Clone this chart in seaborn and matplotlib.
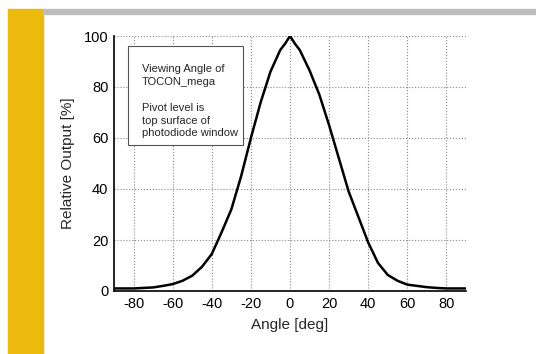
import numpy as np
import pandas as pd
import seaborn as sns
from matplotlib import pyplot as plt
from matplotlib.patches import Rectangle
from matplotlib.ticker import MultipleLocator

# Angle steps
angles = [-90, -85, -80, -75, -70, -65, -60, -55, -50, -45, -40, -35, -30, -25,
          -20, -15, -10, -5, -2.5, 0, 2.5, 5, 10, 15, 20, 25, 30, 35, 40, 45,
          50, 55, 60, 65, 70, 75, 80, 85, 90]
output = [1.0, 1.0, 1.0, 1.2, 1.4, 2.0, 2.7, 4.0, 6.0, 9.5, 14.5, 23, 32, 45,
          60, 74, 86, 94.5, 97, 100, 97, 94.5, 86.5, 77, 65, 52, 39, 29, 19, 11,
          6.3, 4.0, 2.5, 2.0, 1.5, 1.2, 1.0, 1.0, 1.0]

note = "Viewing Angle of\nTOCON_mega\n\nPivot level is\ntop surface of\nphotodiode window"

df = pd.DataFrame({"Angle": angles, "Output": output})

sns.set_style("white")
plt.rcParams['font.family'] = ['Liberation Sans', 'DejaVu Sans']
plt.rcParams['axes.unicode_minus'] = False

fig = plt.figure(figsize=(5.36, 3.54), dpi=100)
W, H = 536, 354

# yellow side bar and grey top bar of the slide
fig.patches.append(Rectangle((8 / W, 0), 35 / W, (H - 9) / H, transform=fig.transFigure,
                             color="#ECB90D", zorder=0))
fig.patches.append(Rectangle((43 / W, (H - 14) / H), (W - 43) / W, 5 / H,
                             transform=fig.transFigure, color="#BEBEBE", zorder=0))

ax = fig.add_axes([114 / W, (H - 291) / H, 352 / W, 255 / H])
sns.lineplot(x="Angle", y="Output", data=df, color="black", linewidth=1.8, ax=ax)

ax.set_xlim(-90, 90)
ax.set_ylim(0, 100)
ax.set_xticks([-80, -60, -40, -20, 0, 20, 40, 60, 80])
ax.set_yticks([0, 20, 40, 60, 80, 100])
ax.xaxis.set_minor_locator(MultipleLocator(10))
ax.yaxis.set_minor_locator(MultipleLocator(10))
ax.tick_params(which="both", direction="in", labelsize=10.5, colors="black", pad=4)
ax.tick_params(which="major", length=4, width=0.8)
ax.tick_params(which="minor", length=2.5, width=0.8)
ax.grid(True, which="major", linestyle=":", color="#888888", linewidth=0.8)

ax.spines["top"].set_visible(False)
ax.spines["right"].set_visible(False)
for s in ["left", "bottom"]:
    ax.spines[s].set_color("black")
    ax.spines[s].set_linewidth(1.2)

ax.set_xlabel("Angle [deg]", fontsize=11, labelpad=5)
ax.set_ylabel("Relative Output [%]", fontsize=11, labelpad=6)

# note box
ax.add_patch(Rectangle((0.040, 0.573), 0.327, 0.388, transform=ax.transAxes,
                       facecolor="white", edgecolor="#555555", linewidth=0.8, zorder=3))
ax.text(0.079, 0.89, note, transform=ax.transAxes, fontsize=8, va="top", ha="left",
        linespacing=1.36, zorder=4)

fig.savefig("out.png", dpi=100)
